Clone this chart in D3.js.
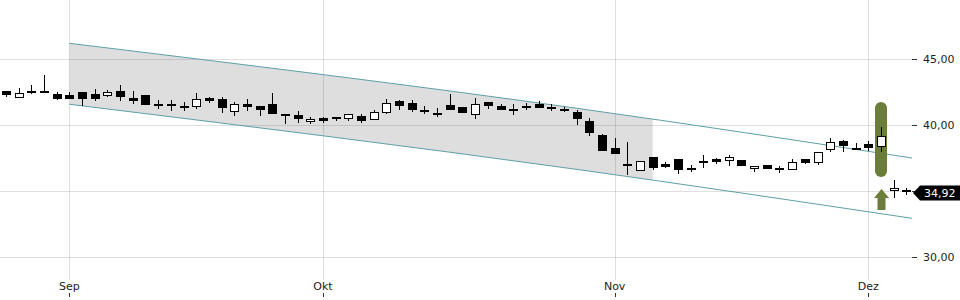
<!DOCTYPE html>
<html>
<head>
<meta charset="utf-8">
<script src="https://cdn.jsdelivr.net/npm/d3@7"></script>
<style>
  html, body { margin: 0; padding: 0; background: #fff; }
  svg { display: block; }
  text { font-family: "DejaVu Sans", sans-serif; }
</style>
</head>
<body>
<svg id="chart" width="960" height="300"></svg>
<script>
// ---- data ----
const openP  = [42.55,42.05,42.58,42.58,42.35,42.30,42.50,42.37,42.20,42.58,42.05,42.25,41.61,41.59,41.27,41.39,42.05,41.97,40.96,41.59,41.44,41.59,40.86,40.78,40.24,40.52,40.58,40.49,40.70,40.36,40.89,41.82,41.69,41.14,40.91,41.52,41.35,40.76,41.72,41.45,41.23,41.42,41.59,41.36,41.21,40.96,40.30,39.24,38.24,36.86,36.49,37.56,37.02,37.40,36.72,37.10,37.42,37.25,37.35,36.69,36.99,36.72,36.57,37.40,37.10,38.08,38.81,38.28,38.56,38.31,34.98,35.10];
const highP  = [42.58,42.78,43.03,43.81,42.50,42.48,42.51,42.73,42.65,43.03,42.58,42.25,41.87,41.89,41.74,42.42,42.14,42.10,41.77,41.95,41.45,42.45,40.87,41.06,40.63,40.61,40.63,40.81,40.80,41.15,41.97,41.93,41.89,41.42,41.30,42.33,41.36,42.02,41.73,41.61,41.59,41.64,41.82,41.57,41.39,41.14,40.51,39.32,39.02,38.70,37.26,37.58,37.17,37.41,36.97,37.73,37.50,37.70,37.35,36.88,37.00,36.92,37.40,37.41,37.99,39.02,38.83,38.61,38.81,39.87,35.83,35.20];
const lowP   = [42.10,42.03,42.38,42.44,41.93,41.98,41.46,41.80,42.12,41.84,41.61,41.48,41.19,41.08,41.08,41.21,41.69,40.89,40.70,41.08,40.70,40.84,40.05,40.13,40.10,40.13,40.32,40.34,40.17,40.36,40.87,41.17,41.02,40.80,40.57,41.15,40.92,40.43,41.21,41.14,40.76,41.16,41.30,41.06,40.96,39.98,39.17,38.04,37.83,36.25,36.48,36.59,36.72,36.29,36.42,36.77,37.05,36.87,36.86,36.44,36.63,36.34,36.56,37.07,36.97,37.98,37.98,38.11,38.03,37.95,34.45,34.72];
const closeP = [42.25,42.45,42.40,42.45,41.95,41.99,41.99,41.99,42.52,42.14,41.84,41.49,41.46,41.42,41.42,41.99,41.84,41.31,41.57,41.33,41.17,40.86,40.68,40.42,40.44,40.30,40.42,40.81,40.32,40.97,41.65,41.44,41.14,41.01,40.83,41.16,40.93,41.57,41.46,41.16,41.14,41.31,41.31,41.27,41.14,40.42,39.42,38.05,37.84,37.05,37.25,36.72,36.82,36.57,36.65,37.27,37.22,37.60,36.87,36.87,36.64,36.61,37.22,37.14,37.98,38.69,38.39,38.18,38.28,39.19,35.25,34.92];

const monthLabels = ["Sep", "Okt", "Nov", "Dez"];
const monthIndex  = [5, 25, 48, 68];
const priceTicks  = [30, 35, 40, 45];

// trend channel (index, upper price, lower price)
const channelIndex = [5, 45, 71.45];
const channelUpper = [46.19, 41.27, 37.50];
const channelLower = [41.57, 36.64, 32.93];
const channelFillEnd = 51;

// signal marker at candle 69
const signalIndex = 69;
const signalBand  = [36.06, 41.74];
const arrowRange  = [33.56, 35.15];
const lastPrice   = 34.92;

// ---- scales ----
const svg = d3.select("#chart");
const plotRight = 912;
const x = d3.scaleLinear().domain([0, 71]).range([6, 906.3]);
const y = d3.scaleLinear().domain([30, 45]).range([257, 59]);
const gridColor = "rgba(0,0,0,0.12)";
const px = v => Math.round(v) + 0.5;

// ---- channel fill ----
const chan = channelIndex.map((d, i) => ({ i: d, u: channelUpper[i], l: channelLower[i] }));
svg.append("clipPath").attr("id", "fillClip")
  .append("rect")
  .attr("x", x(channelIndex[0])).attr("y", 0)
  .attr("width", x(channelFillEnd) - x(channelIndex[0])).attr("height", 300);

svg.append("path")
  .datum(chan)
  .attr("clip-path", "url(#fillClip)")
  .attr("fill", "#dedede")
  .attr("d", d3.area().x(d => x(d.i)).y0(d => y(d.l)).y1(d => y(d.u)).curve(d3.curveMonotoneX));

// ---- grid ----
const grid = svg.append("g");
grid.selectAll("line.h").data(priceTicks).join("line")
  .attr("x1", 0).attr("x2", plotRight)
  .attr("y1", d => px(y(d))).attr("y2", d => px(y(d)))
  .attr("stroke", gridColor);
grid.selectAll("line.v").data(monthIndex).join("line")
  .attr("x1", d => px(x(d))).attr("x2", d => px(x(d)))
  .attr("y1", 0).attr("y2", 280)
  .attr("stroke", gridColor);

// ---- channel lines ----
["u", "l"].forEach(k => {
  svg.append("path")
    .datum(chan)
    .attr("fill", "none")
    .attr("stroke", "#5f9fa6")
    .attr("stroke-width", 1)
    .attr("d", d3.line().x(d => x(d.i)).y(d => y(d[k])).curve(d3.curveMonotoneX));
});

// ---- signal pill (behind candles) ----
const sx = x(signalIndex);
svg.append("rect")
  .attr("x", Math.round(sx) - 6).attr("width", 12)
  .attr("y", y(signalBand[1])).attr("height", y(signalBand[0]) - y(signalBand[1]))
  .attr("rx", 6).attr("ry", 6)
  .attr("fill", "#6b7d3a");

// arrow
{
  const cx = Math.round(sx) + 0.5;
  const tip = y(arrowRange[1]);
  const bot = y(arrowRange[0]);
  const head = tip + 9;
  const p = d3.path();
  p.moveTo(cx, tip);
  p.lineTo(cx + 7.5, head);
  p.lineTo(cx + 4, head);
  p.lineTo(cx + 4, bot);
  p.lineTo(cx - 4, bot);
  p.lineTo(cx - 4, head);
  p.lineTo(cx - 7.5, head);
  p.closePath();
  svg.append("path").attr("d", p.toString()).attr("fill", "#6b7d3a");
}

// ---- candles ----
const candles = openP.map((o, i) => ({ i, o, h: highP[i], l: lowP[i], c: closeP[i] }));
const cg = svg.append("g");
candles.forEach(d => {
  const cx = Math.round(x(d.i));
  cg.append("line")
    .attr("x1", cx + 0.5).attr("x2", cx + 0.5)
    .attr("y1", Math.round(y(d.h))).attr("y2", Math.round(y(d.l)))
    .attr("stroke", "#000").attr("stroke-width", 1);
  const top = Math.round(y(Math.max(d.o, d.c)));
  const bot = Math.round(y(Math.min(d.o, d.c)));
  const up = d.c >= d.o;
  const hgt = Math.max(2, bot - top);
  if (up) {
    cg.append("rect")
      .attr("x", cx - 4 + 0.5).attr("width", 8)
      .attr("y", top + 0.5).attr("height", Math.max(1, hgt - 1))
      .attr("fill", "#fff").attr("stroke", "#000").attr("stroke-width", 1);
  } else {
    cg.append("rect")
      .attr("x", cx - 4).attr("width", 9)
      .attr("y", top).attr("height", hgt)
      .attr("fill", "#000");
  }
});

// ---- right axis ----
const fmt = v => d3.format(".2f")(v).replace(".", ",");
const labelCy = y(lastPrice) + 1;
// tick labels hidden behind the last-price badge are not drawn
const shownTicks = priceTicks.filter(d => Math.abs(y(d) - labelCy) > 9);
const ax = svg.append("g");
ax.selectAll("line").data(priceTicks).join("line")
  .attr("x1", plotRight).attr("x2", plotRight + 5)
  .attr("y1", d => px(y(d))).attr("y2", d => px(y(d)))
  .attr("stroke", "#333");
ax.selectAll("text").data(shownTicks).join("text")
  .attr("x", 923).attr("y", d => y(d))
  .attr("dy", "0.35em")
  .attr("font-size", 11).attr("fill", "#222")
  .text(d => fmt(d));

// ---- month axis ----
const mx = svg.append("g");
mx.selectAll("text").data(monthIndex).join("text")
  .attr("x", d => x(d)).attr("y", 290)
  .attr("text-anchor", "middle")
  .attr("font-size", 11).attr("fill", "#222")
  .text((d, i) => monthLabels[i]);
mx.selectAll("line").data(monthIndex).join("line")
  .attr("x1", d => px(x(d))).attr("x2", d => px(x(d)))
  .attr("y1", 293).attr("y2", 297)
  .attr("stroke", "#333");

// ---- last price label ----
{
  const cy = labelCy;
  const p = d3.path();
  p.moveTo(913, cy);
  p.lineTo(920, cy - 7.5);
  p.lineTo(960, cy - 7.5);
  p.lineTo(960, cy + 7.5);
  p.lineTo(920, cy + 7.5);
  p.closePath();
  svg.append("path").attr("d", p.toString()).attr("fill", "#000");
  svg.append("text")
    .attr("x", 924).attr("y", cy).attr("dy", "0.35em")
    .attr("font-size", 11).attr("fill", "#fff")
    .text(fmt(lastPrice));
}
</script>
</body>
</html>
